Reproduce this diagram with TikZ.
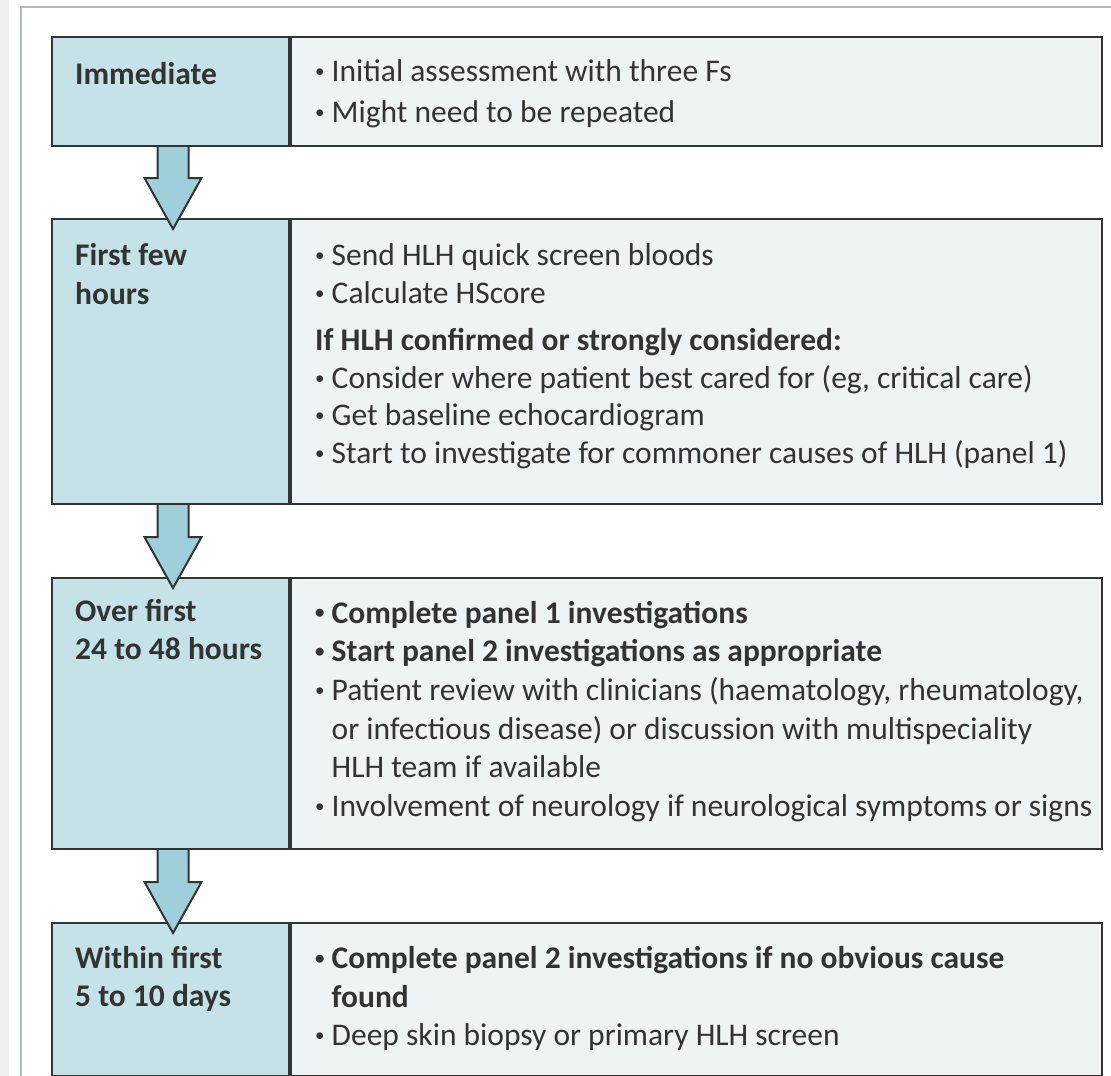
\documentclass[tikz,border=0pt]{standalone}
\usepackage{fontspec}
\setmainfont{Carlito}
\usetikzlibrary{positioning,calc}

\definecolor{stagefill}{HTML}{C4E2E7}
\definecolor{notefill}{HTML}{EEF3F5}
\definecolor{arrowfill}{HTML}{9ECFDB}
\definecolor{framegray}{HTML}{AEBDBD}
\definecolor{inkgray}{HTML}{333333}

\tikzset{
  stage/.style={draw=inkgray, line width=2pt, fill=stagefill, minimum width=237pt,
    inner sep=0, anchor=north west},
  notes/.style={draw=inkgray, line width=2pt, fill=notefill, minimum width=811pt,
    inner sep=0, anchor=north west},
  whentext/.style={anchor=north west, inner sep=0, align=left, text=inkgray,
    font=\fontsize{31.5}{38.5}\selectfont\bfseries, execute at begin node=\strut},
  dotext/.style={anchor=north west, inner sep=0, align=left, text=inkgray,
    font=\fontsize{31.5}{38.7}\selectfont, execute at begin node=\strut},
  arrowbody/.style={draw=inkgray, line width=2pt, fill=arrowfill, line join=miter}
}

% block arrow from the bottom of one stage box into the top of the next
\newcommand{\stagearrow}[2]{%
  \draw[arrowbody] let \p1=(#1.south), \p2=(#2.north) in
    (\x1-13,\y1) -- (\x1-13,\y2+40) -- (\x1-26,\y2+40) -- (\x1+2.5,\y2-11)
    -- (\x1+31,\y2+40) -- (\x1+18,\y2+40) -- (\x1+18,\y1);
}
\newcommand{\bul}{\raisebox{0.13em}{\scalebox{0.6}{•}}\ }
\newcommand{\cont}{\phantom{\bul}}

\begin{document}
\begin{tikzpicture}[x=1pt, y=-1pt]
\useasboundingbox (0,0) rectangle (1111,1076);
% page edge and outer frame
\fill[black!6] (0,0) rectangle (9,1076);
\draw[framegray, line width=1.5pt] (1111,7) -- (21,7) -- (21,1076);

% stage boxes
\node[stage, minimum height=109pt] (imm) at (51,36) {};
\node[notes, minimum height=109pt] (imm-do) at (imm.north east) {};
\node[stage, minimum height=285pt] (few) at (51,218) {};
\node[notes, minimum height=285pt] (few-do) at (few.north east) {};
\node[stage, minimum height=271pt] (over) at (51,577) {};
\node[notes, minimum height=271pt] (over-do) at (over.north east) {};
\node[stage, minimum height=153pt] (within) at (51,922) {};
\node[notes, minimum height=153pt] (within-do) at (within.north east) {};

% when
\node[whentext] at ($(imm.north west)+(24,21)$) {Immediate};
\node[whentext] at ($(few.north west)+(24,25.5)$) {First few\\hours};
\node[whentext] at ($(over.north west)+(24,22)$) {Over first\\24 to 48 hours};
\node[whentext] at ($(within.north west)+(24,24)$) {Within first\\5 to 10 days};

% what
\node[dotext, font=\fontsize{31.5}{41}\selectfont] at ($(imm-do.north west)+(25,23.5)$)
  {\bul Initial assessment with three Fs\\
   \bul Might need to be repeated};
\node[dotext, font=\fontsize{31.5}{37.5}\selectfont] at ($(few-do.north west)+(25,25.7)$)
  {\bul Send HLH quick screen bloods\\
   \bul Calculate HScore\\[10pt]
   \textbf{If HLH confirmed or strongly considered:}\\
   \bul Consider where patient best cared for (eg, critical care)\\
   \bul Get baseline echocardiogram\\
   \bul Start to investigate for commoner causes of HLH (panel 1)};
\node[dotext] at ($(over-do.north west)+(25,23.7)$)
  {\textbf{\bul Complete panel 1 investigations}\\
   \textbf{\bul Start panel 2 investigations as appropriate}\\
   \bul Patient review with clinicians (haematology, rheumatology,\\
   \cont or infectious disease) or discussion with multispeciality\\
   \cont HLH team if available\\
   \bul Involvement of neurology if neurological symptoms or signs};
\node[dotext] at ($(within-do.north west)+(25,24)$)
  {\textbf{\bul Complete panel 2 investigations if no obvious cause}\\
   \textbf{\cont found}\\
   \bul Deep skin biopsy or primary HLH screen};

% arrows between stages
\stagearrow{imm}{few}
\stagearrow{few}{over}
\stagearrow{over}{within}
\end{tikzpicture}
\end{document}
